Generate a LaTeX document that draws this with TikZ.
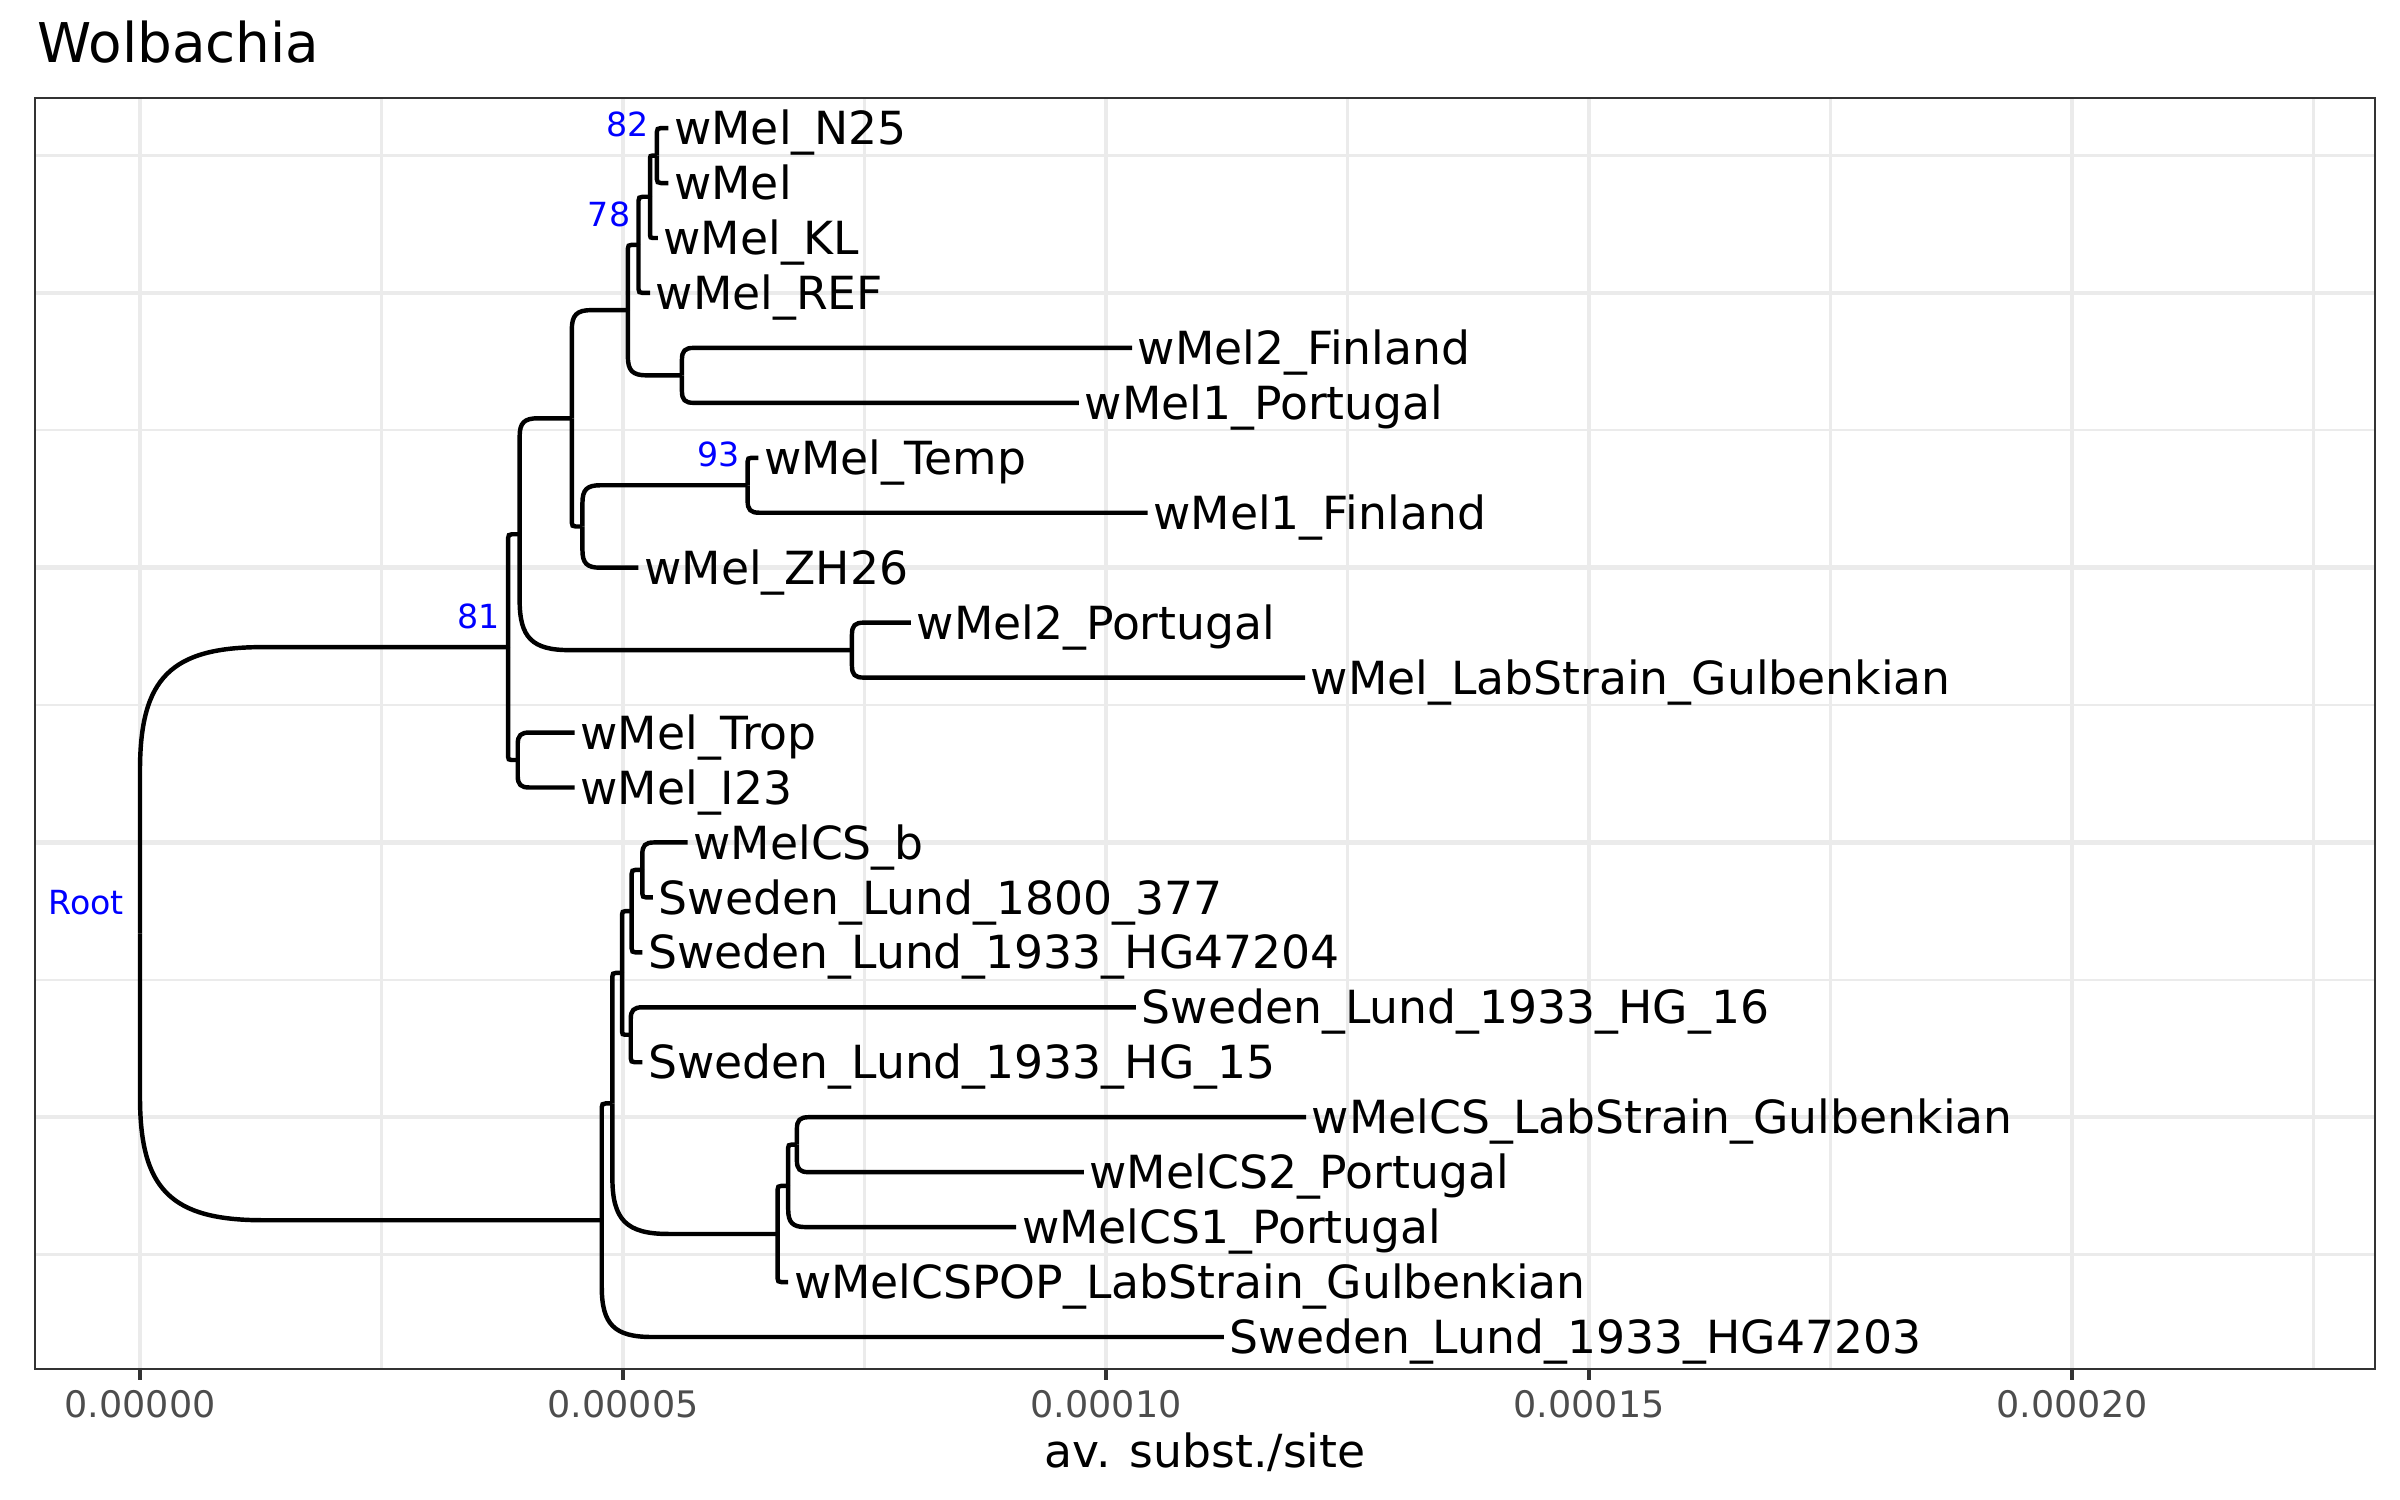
\documentclass[tikz,border=0pt]{standalone}
\usepackage{fontspec}
\setmainfont{DejaVu Sans}
\usetikzlibrary{calc}

\definecolor{grey92}{HTML}{EBEBEB}
\definecolor{grey30}{HTML}{4D4D4D}
\definecolor{grey20}{HTML}{333333}

\tikzset{
  branch/.style={line width=1.07pt, black},
  tiplab/.style={anchor=base west, inner sep=0pt, xshift=1.2pt, yshift=-4pt, font=\fontsize{11}{13}\selectfont},
  nodelab/.style={anchor=base east, inner sep=0pt, xshift=-1.8pt, yshift=4.5pt, text=blue, font=\fontsize{8}{10}\selectfont},
  majorgrid/.style={line width=1.07pt, grey92},
  minorgrid/.style={line width=0.53pt, grey92},
  ticklab/.style={anchor=base, inner sep=0pt, text=grey30, font=\fontsize{8.8}{10}\selectfont}
}

% elbow from parent to child, rounded corner sized from the elbow
\newcommand{\branch}[2]{%
  \draw[branch] let \p1 = (#1), \p2 = (#2),
    \n1 = {min(0.35*abs(\x2-\x1), 0.43*abs(\y2-\y1))},
    \n2 = {(\y2 > \y1 ? 1 : -1)*\n1} in
    (#1) -- ({\x1}, {\y2-(\n2)})
    .. controls ({\x1}, {\y2-0.25*(\n2)}) and ({\x1+0.25*\n1}, {\y2}) ..
    ({\x1+\n1}, {\y2}) -- (#2);}

\begin{document}
\begin{tikzpicture}[x=0.322in, y=0.183167in]
\useasboundingbox (-1.4493,-1.9663) rectangle (23.395,25.331);

\coordinate (pSW) at (-1.087, 0.4177);
\coordinate (pNE) at (23.137, 23.548);

% grid
\foreach \g in {2.5,7.5,...,22.5} {
  \draw[minorgrid] (\g,0 |- pSW) -- (\g,0 |- pNE);
  \draw[minorgrid] (pSW |- 0,\g) -- (pNE |- 0,\g);
}
\foreach \g in {0,5,...,20}
  \draw[majorgrid] (\g,0 |- pSW) -- (\g,0 |- pNE);
\foreach \g in {5,10,...,20}
  \draw[majorgrid] (pSW |- 0,\g) -- (pNE |- 0,\g);

% tips
\foreach \ty/\tx/\tlab in {
  23/5.47/wMel\_N25, 22/5.47/wMel, 21/5.36/wMel\_KL, 20/5.28/wMel\_REF,
  19/10.27/wMel2\_Finland, 18/9.72/wMel1\_Portugal, 17/6.40/wMel\_Temp,
  16/10.43/wMel1\_Finland, 15/5.16/wMel\_ZH26, 14/7.98/wMel2\_Portugal,
  13/12.06/wMel\_LabStrain\_Gulbenkian, 12/4.50/wMel\_Trop, 11/4.50/wMel\_I23,
  10/5.67/wMelCS\_b, 9/5.31/Sweden\_Lund\_1800\_377,
  8/5.20/Sweden\_Lund\_1933\_HG47204, 7/10.31/Sweden\_Lund\_1933\_HG\_16,
  6/5.20/Sweden\_Lund\_1933\_HG\_15, 5/12.07/wMelCS\_LabStrain\_Gulbenkian,
  4/9.77/wMelCS2\_Portugal, 3/9.07/wMelCS1\_Portugal,
  2/6.71/wMelCSPOP\_LabStrain\_Gulbenkian, 1/11.22/Sweden\_Lund\_1933\_HG47203} {
  \coordinate (t\ty) at (\tx, \ty);
  \node[tiplab] (l\ty) at (t\ty) {\tlab};
}

% inner nodes
\coordinate (root) at (0, 8.34);
\coordinate (nA) at (3.81, 13.555);
\coordinate (nQ) at (3.93, 15.609);
\coordinate (nTrop) at (3.91, 11.5);
\coordinate (nP) at (4.47, 17.719);
\coordinate (nZH) at (4.58, 15.75);
\coordinate (nTemp) at (6.29, 16.5);
\coordinate (nWP) at (7.37, 13.5);
\coordinate (nK) at (5.05, 19.6875);
\coordinate (nF) at (5.61, 18.5);
\coordinate (nR) at (5.16, 20.875);
\coordinate (nL) at (5.28, 21.75);
\coordinate (nN) at (5.35, 22.5);
\coordinate (nB) at (4.78, 3.125);
\coordinate (nC) at (4.89, 5.25);
\coordinate (nG0) at (4.99, 7.625);
\coordinate (nG) at (5.09, 8.75);
\coordinate (nS) at (5.20, 9.5);
\coordinate (nH) at (5.08, 6.5);
\coordinate (nD) at (6.60, 2.875);
\coordinate (nE) at (6.71, 3.75);
\coordinate (nX) at (6.80, 4.5);

% branches
\foreach \a/\b in {root/nA, root/nB, nA/nQ, nA/nTrop, nQ/nP, nQ/nWP,
  nP/nK, nP/nZH, nK/nR, nK/nF, nR/nL, nR/t20, nL/nN, nL/t21, nN/t23, nN/t22,
  nF/t19, nF/t18, nZH/nTemp, nZH/t15, nTemp/t17, nTemp/t16, nWP/t14, nWP/t13,
  nTrop/t12, nTrop/t11, nB/nC, nB/t1, nC/nG0, nC/nD, nG0/nG, nG0/nH,
  nG/nS, nG/t8, nS/t10, nS/t9, nH/t7, nH/t6, nD/nE, nD/t2, nE/nX, nE/t3,
  nX/t5, nX/t4} {
  \branch{\a}{\b}
}

% support values
\node[nodelab] (s82) at (nN) {82};
\node[nodelab] (s78) at (nR) {78};
\node[nodelab] (s93) at (nTemp) {93};
\node[nodelab] (s81) at (nA) {81};
\node[nodelab, xshift=-1.9pt] (sRoot) at (root) {Root};

% panel and axis
\draw[grey20, line width=0.55pt] (pSW) rectangle (pNE);
\foreach \g/\glab in {0/0.00000, 5/0.00005, 10/0.00010, 15/0.00015, 20/0.00020} {
  \draw[grey20, line width=1.07pt] (\g,0 |- pSW) -- ++(0,-2.75pt);
  \node[ticklab] (x\g) at (\g, -0.456) {\glab};
}
\node[anchor=base, inner sep=0pt, font=\fontsize{11}{13}\selectfont] (xtitle) at (11.025, -1.366) {av. subst./site};
\node[anchor=base west, inner sep=0pt, font=\fontsize{13.2}{15}\selectfont] (title) at (-1.069, 24.19) {Wolbachia};
\end{tikzpicture}
\end{document}
